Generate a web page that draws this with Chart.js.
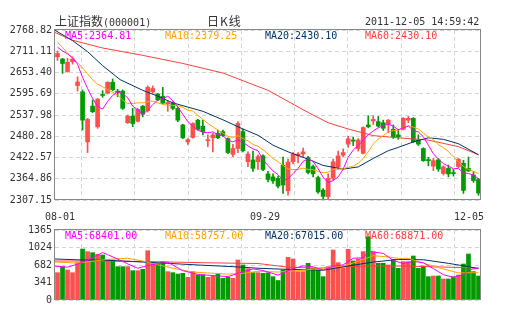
<!DOCTYPE html>
<html>
<head>
<meta charset="utf-8">
<script src="https://cdn.jsdelivr.net/npm/chart.js@4.4.0/dist/chart.umd.min.js"></script>
<style>
  body { margin: 0; background: #fff; }
  #wrap { position: relative; width: 505px; height: 330px; font-family: "DejaVu Sans Mono", monospace; font-size: 10px; color: #333; }
  .t { position: absolute; white-space: nowrap; line-height: 12px; }
  canvas { position: absolute; left: 0; }
  #c1 { top: 0; }
  #c2 { top: 210px; }
</style>
</head>
<body>
<div id="wrap">
  <canvas id="c1" width="505" height="210"></canvas>
  <canvas id="c2" width="505" height="120"></canvas>

  <div class="t" style="left:55px;top:15px;font-size:12px;font-family:'Noto Sans CJK SC',sans-serif;">上证指数<span style="font-family:'DejaVu Sans Mono';font-size:10px">(000001)</span></div>
  <div class="t" style="left:207px;top:15px;font-size:12px;font-family:'Noto Sans CJK SC',sans-serif;letter-spacing:1px;">日K线</div>
  <div class="t" style="left:365px;top:16px;">2011-12-05 14:59:42</div>

  <div class="t" style="left:65px;top:30px;color:#ff00ff">MA5:2364.81</div>
  <div class="t" style="left:165px;top:30px;color:#ffa500">MA10:2379.25</div>
  <div class="t" style="left:265px;top:30px;color:#003366">MA20:2430.10</div>
  <div class="t" style="left:365px;top:30px;color:#ff4040">MA60:2430.10</div>

  <div class="t" style="left:45px;top:211px;">08-01</div>
  <div class="t" style="left:250px;top:211px;">09-29</div>
  <div class="t" style="left:454px;top:211px;">12-05</div>

  <div class="t" style="left:65px;top:230px;color:#ff00ff">MA5:68401.00</div>
  <div class="t" style="left:165px;top:230px;color:#ffa500">MA10:58757.00</div>
  <div class="t" style="left:265px;top:230px;color:#003366">MA20:67015.00</div>
  <div class="t" style="left:365px;top:230px;color:#ff4040">MA60:68871.00</div>
</div>

<script>
// Daily candles, 2011-08-01 .. 2011-12-05 (85 trading days)
const opens = [2696,2690,2656,2683,2618,2601,2465,2562,2506,2592, 2597,2627,2603,2603,2517,2535,2521,2562,2550,2601,
  2595,2589,2568,2571,2556,2511,2465,2477,2524,2508, 2468,2476,2488,2493,2474,2431,2447,2493,2411,2416,
  2411,2427,2378,2370,2366,2402,2332,2411,2427,2432, 2422,2398,2368,2334,2316,2366,2396,2429,2459,2470,
  2447,2434,2511,2522,2520,2517,2513,2499,2484,2499, 2524,2529,2470,2447,2417,2399,2416,2379,2393,2381,
  2398,2407,2393,2375,2363];
const highs = [2712,2692,2692,2696,2642,2606,2529,2579,2583,2604, 2628,2636,2608,2606,2538,2556,2556,2564,2617,2617,
  2597,2613,2577,2574,2558,2513,2474,2517,2526,2524, 2484,2488,2497,2497,2476,2458,2520,2500,2438,2440,
  2430,2430,2385,2378,2372,2424,2418,2436,2436,2448, 2426,2402,2372,2338,2378,2418,2440,2446,2480,2478,
  2474,2506,2536,2536,2534,2524,2526,2511,2499,2531, 2534,2531,2484,2449,2423,2420,2420,2400,2402,2390,
  2420,2415,2424,2384,2366];
const lows = [2686,2651,2654,2676,2603,2497,2436,2544,2502,2586, 2595,2604,2588,2553,2515,2506,2519,2533,2546,2597,
  2577,2568,2548,2552,2520,2474,2458,2475,2497,2484, 2452,2438,2474,2480,2433,2425,2436,2438,2398,2385,
  2390,2387,2356,2352,2340,2325,2320,2405,2408,2425, 2378,2370,2325,2310,2305,2360,2390,2425,2450,2455,
  2440,2432,2503,2512,2505,2496,2490,2474,2472,2497, 2517,2463,2455,2412,2400,2387,2385,2375,2370,2372,
  2395,2325,2384,2355,2320];
const closes = [2705,2678,2681,2690,2628,2524,2526,2547,2581,2591, 2627,2607,2599,2556,2535,2515,2553,2540,2613,2610,
  2579,2570,2572,2556,2524,2476,2471,2515,2499,2493, 2471,2484,2476,2482,2436,2447,2515,2441,2432,2393,
  2425,2390,2363,2359,2345,2348,2410,2432,2432,2438, 2382,2378,2329,2317,2366,2411,2427,2436,2473,2467,
  2470,2504,2506,2526,2508,2502,2524,2479,2479,2529, 2529,2465,2459,2414,2414,2414,2391,2397,2378,2379,
  2418,2333,2386,2360,2326];

// moving averages
const ma5 = [2722,2712,2704,2693,2676,2640,2610,2583,2561,2554, 2575,2591,2601,2596,2585,2562,2552,2540,2551,2566,
  2579,2582,2589,2577,2560,2540,2520,2508,2497,2491, 2490,2492,2485,2481,2470,2465,2471,2464,2454,2446,
  2441,2416,2401,2386,2376,2361,2365,2379,2393,2412, 2419,2412,2392,2369,2354,2360,2370,2391,2423,2443,
  2455,2470,2484,2495,2503,2509,2513,2508,2498,2503, 2508,2496,2492,2479,2456,2433,2418,2406,2399,2392,
  2393,2381,2379,2375,2365];
const ma10 = [2735,2722,2706,2693,2680,2666,2650,2634,2622,2615, 2607,2600,2592,2579,2569,2569,2571,2571,2574,2576,
  2571,2567,2564,2564,2563,2559,2551,2549,2537,2526, 2515,2506,2497,2489,2480,2477,2482,2474,2468,2458,
  2453,2444,2432,2420,2411,2401,2391,2390,2390,2394, 2390,2389,2385,2381,2383,2390,2391,2392,2396,2399,
  2407,2420,2438,2459,2473,2482,2492,2496,2497,2503, 2509,2505,2500,2489,2479,2471,2457,2449,2439,2424,
  2411,2398,2390,2385,2379];
const ma20X = [-0.5,3,6,9,12.5,17,20,23,29,33,37,40,43,46,50,53,57,60,63,66,68,71,74,77,80,84];
const ma20Y = [2768,2740,2710,2672,2634,2605,2589,2571,2548,2525,2500,2483,2456,2438,2418,2401,2391,2397,2420,2441,2450,2465,2476,2472,2460,2430];
const ma60X = [-0.5,3,9,17,25,33,42,46,50,54,58,63,68,74,80,84];
const ma60Y = [2762,2741,2720,2700,2678,2652,2605,2575,2545,2517,2500,2482,2476,2470,2452,2430];

// volume
const vols = [533,650,585,533,728,994,943,923,890,878, 793,780,650,650,650,572,572,598,962,715,
  702,748,553,533,507,520,442,553,488,488, 442,468,507,422,442,422,780,683,610,533,
  533,520,530,455,380,585,832,800,553,553, 715,618,585,455,650,975,728,620,988,761,
  800,943,1235,943,715,715,683,793,618,748, 748,858,618,663,455,468,468,410,410,455,
  488,702,897,553,468];
const vma5X = [-0.5,2,4,7,9,10,12,14,16,18,20,22,25,28,30,34,37,39,41,44,47,49,51,53,55,57,59,61,62,63,65,67,69,71,73,75,77,79,81,82,84];
const vma5Y = [660,640,700,824,926,885,798,705,619,671,710,736,572,500,483,456,550,606,576,484,610,665,648,585,657,686,814,822,945,936,910,770,711,753,727,612,493,442,493,590,621];
const vma10X = [-0.5,4,10,14,17,20,24,27,30,34,37,40,44,48,52,55,58,61,63,66,68,70,73,77,80,84];
const vma10Y = [740,720,792,815,760,685,600,545,527,505,520,560,545,572,610,640,689,790,864,840,810,814,716,605,529,532];
const vma20X = [-0.5,5,10,15,22,28,35,40,45,53,58,63,68,73,78,82,84];
const vma20Y = [800,780,775,750,715,683,650,620,600,580,663,740,790,785,715,650,611];
const vma60X = [-0.5,10,20,30,40,46,52,58,63,70,78,84];
const vma60Y = [760,760,745,725,712,640,620,650,665,660,640,625];

// tick labels
const priceTicks = [2307.15,2364.86,2422.57,2480.28,2537.98,2595.69,2653.40,2711.11,2768.82];
const volTicks = [0,341,682,1024,1365];

const RED = '#ff5050', GREEN = '#009900';
const idx = closes.map((c, i) => i);
const colors = idx.map(i => closes[i] >= opens[i] ? RED : GREEN);
const pts = (xs, ys) => xs.map((x, k) => ({x: x, y: ys[k]}));
const maLine = (data, color, order) => ({
  type: 'line', data: data, borderColor: color, borderWidth: 1,
  pointRadius: 0, tension: 0, fill: false, order: order
});

// frame round the plot area
const frame = {
  id: 'frame',
  afterDraw(chart) {
    const a = chart.chartArea, c = chart.ctx;
    c.save();
    c.strokeStyle = '#888';
    c.lineWidth = 1;
    c.strokeRect(a.left - 0.5, a.top - 0.5, a.right - a.left, a.bottom - a.top);
    c.restore();
  }
};

const n = closes.length;
const xGrid = [1,2,3,4,5,6,7].map(k => -0.5 + k * n / 8);

function xScale() {
  return {
    type: 'linear', min: -0.5, max: n - 0.5, offset: false,
    afterBuildTicks: s => { s.ticks = xGrid.map(v => ({value: v})); },
    afterFit: s => { s.height = 0; },
    ticks: {display: false},
    grid: {color: '#d4d4d4', drawTicks: false},
    border: {display: false, dash: [4, 3]}
  };
}
function yScale(min, max, ticks, fmt) {
  return {
    min: min, max: max,
    afterBuildTicks: s => { s.ticks = ticks.map(v => ({value: v})); },
    afterFit: s => { s.width = 55; },
    ticks: {callback: fmt, color: '#333', padding: 3, font: {family: 'DejaVu Sans Mono', size: 10}},
    grid: {color: '#d4d4d4', drawTicks: false},
    border: {display: false, dash: [4, 3]}
  };
}

const common = {
  responsive: false, animation: false,
  plugins: {legend: {display: false}, tooltip: {enabled: false}}
};

new Chart(document.getElementById('c1'), {
  type: 'bar',
  data: {
    datasets: [
      {data: idx.map(i => ({x: i, y: [lows[i], highs[i]]})), backgroundColor: colors,
       barThickness: 1, grouped: false, order: 6},
      {data: idx.map(i => ({x: i, y: [opens[i], closes[i]]})), backgroundColor: colors,
       barThickness: 4, minBarLength: 1, grouped: false, order: 5},
      maLine(pts(ma60X, ma60Y), '#ff4040', 4),
      maLine(pts(ma20X, ma20Y), '#003366', 3),
      maLine(idx.map(i => ({x: i, y: ma10[i]})), '#ffa500', 2),
      maLine(idx.map(i => ({x: i, y: ma5[i]})), '#ff00ff', 1)
    ]
  },
  options: Object.assign({}, common, {
    layout: {padding: {top: 30, right: 24, bottom: 10, left: 0}},
    scales: {
      x: xScale(),
      y: yScale(priceTicks[0], priceTicks[priceTicks.length - 1], priceTicks, v => v.toFixed(2))
    }
  }),
  plugins: [frame]
});

new Chart(document.getElementById('c2'), {
  type: 'bar',
  data: {
    datasets: [
      {data: idx.map(i => ({x: i, y: vols[i]})), backgroundColor: colors,
       barThickness: 4, grouped: false, order: 5},
      maLine(pts(vma60X, vma60Y), '#ff4040', 4),
      maLine(pts(vma20X, vma20Y), '#003366', 3),
      maLine(pts(vma10X, vma10Y), '#ffa500', 2),
      maLine(pts(vma5X, vma5Y), '#ff00ff', 1)
    ]
  },
  options: Object.assign({}, common, {
    layout: {padding: {top: 20, right: 24, bottom: 30, left: 0}},
    scales: {
      x: xScale(),
      y: yScale(0, volTicks[volTicks.length - 1], volTicks, v => String(v))
    }
  }),
  plugins: [frame]
});
</script>
</body>
</html>
